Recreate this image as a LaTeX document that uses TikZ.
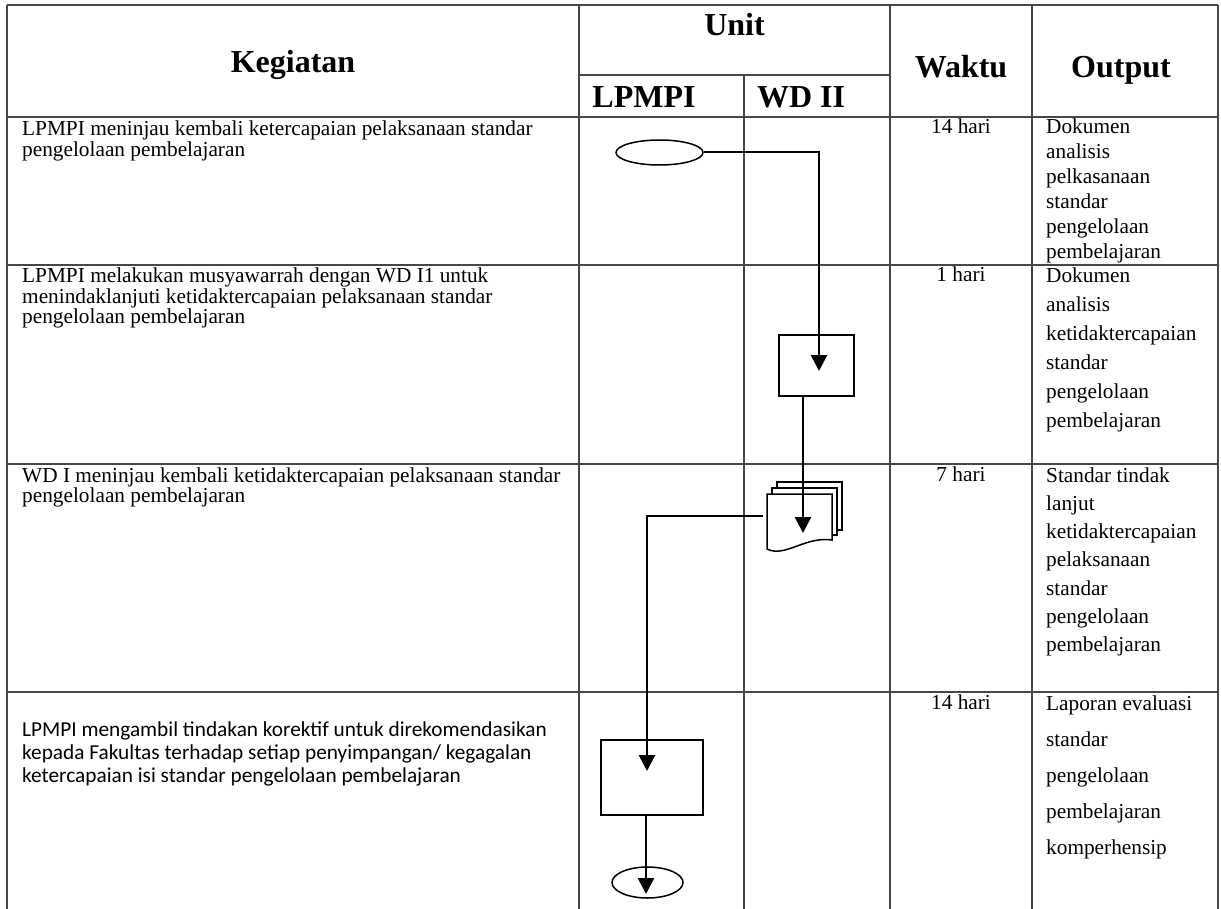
\documentclass[tikz,border=0pt]{standalone}
\usepackage{fontspec}
\setmainfont{Liberation Serif}
\newfontfamily\sansbody{Carlito}
\usetikzlibrary{arrows.meta,shapes.geometric,calc}

% one cell of text: lines stacked with a fixed leading, baseline = first line
\newcommand\cellstack[2]{\vtop{\baselineskip=#1pt\lineskiplimit=-20pt #2}}

\begin{document}
\begin{tikzpicture}[x=1pt,y=-1pt,
  grid/.style={line width=1.4pt,draw=black!72},
  head/.style={font=\fontsize{32}{32}\selectfont\bfseries,inner sep=0pt,anchor=base},
  cell/.style={font=\fontsize{21.3}{21}\selectfont,inner sep=0pt,anchor=base west},
  timecell/.style={font=\fontsize{21.3}{21}\selectfont,inner sep=0pt,anchor=base},
  term/.style={ellipse,draw=black,fill=white,line width=1.5pt,inner sep=0pt},
  proc/.style={rectangle,draw=black,fill=white,line width=1.5pt,inner sep=0pt},
  page/.style={draw=black,fill=white,line width=1.5pt,line join=miter},
  flow/.style={draw=black,line width=2.8pt,-{Triangle[width=16pt,length=16pt]}},
  link/.style={draw=black,line width=2pt}
]
\useasboundingbox (0,0) rectangle (1221,909);
\fill[white] (0,0) rectangle (1221,909);

% ---- table rules ----
\draw[grid] (7,5) -- (1218,5);
\draw[grid] (579,75) -- (890,75);
\foreach \y in {117,265,464,692} \draw[grid] (7,\y) -- (1218,\y);
\foreach \x in {7,579,890,1032,1218} \draw[grid] (\x,5) -- (\x,909);
\draw[grid] (744,75) -- (744,909);

% ---- header ----
\node[head] (hKeg) at (293,73) {Kegiatan};
\node[head] (hUnit) at (734.5,36) {Unit};
\node[head] (hLp) at (644,108) {LPMPI};
\node[head] (hWd) at (801,108) {WD II};
\node[head] (hWak) at (961,78) {Waktu};
\node[head] (hOut) at (1121,78) {Output};

% ---- row 1 ----
\node[cell] (k1) at (22,136) {\cellstack{20.5}{\hbox{LPMPI meninjau kembali ketercapaian pelaksanaan standar}\hbox{pengelolaan pembelajaran}}};
\node[timecell] (w1) at (961,134) {14 hari};
\node[cell] (o1) at (1046,134) {\cellstack{25}{\hbox{Dokumen}\hbox{analisis}\hbox{pelkasanaan}\hbox{standar}\hbox{pengelolaan}\hbox{pembelajaran}}};

% ---- row 2 ----
\node[cell] (k2) at (22,283) {\cellstack{20.5}{\hbox{LPMPI melakukan musyawarrah dengan WD I1 untuk}\hbox{menindaklanjuti ketidaktercapaian pelaksanaan standar}\hbox{pengelolaan pembelajaran}}};
\node[timecell] (w2) at (961,282) {1 hari};
\node[cell] (o2) at (1046,283) {\cellstack{29}{\hbox{Dokumen}\hbox{analisis}\hbox{ketidaktercapaian}\hbox{standar}\hbox{pengelolaan}\hbox{pembelajaran}}};

% ---- row 3 ----
\node[cell] (k3) at (22,482) {\cellstack{20.5}{\hbox{WD I meninjau kembali ketidaktercapaian pelaksanaan standar}\hbox{pengelolaan pembelajaran}}};
\node[timecell] (w3) at (961,481) {7 hari};
\node[cell] (o3) at (1046,482) {\cellstack{28.3}{\hbox{Standar tindak}\hbox{lanjut}\hbox{ketidaktercapaian}\hbox{pelaksanaan}\hbox{standar}\hbox{pengelolaan}\hbox{pembelajaran}}};

% ---- row 4 ----
\node[cell,font=\sansbody\fontsize{21.3}{21}\selectfont] (k4) at (22,736) {\cellstack{23}{\hbox{LPMPI mengambil tindakan korektif untuk direkomendasikan}\hbox{kepada Fakultas terhadap setiap penyimpangan/ kegagalan}\hbox{ketercapaian isi standar pengelolaan pembelajaran}}};
\node[timecell] (w4) at (961,709) {14 hari};
\node[cell] (o4) at (1046,710) {\cellstack{36}{\hbox{Laporan evaluasi}\hbox{standar}\hbox{pengelolaan}\hbox{pembelajaran}\hbox{komperhensip}}};

% ---- flowchart symbols ----
\node[term,minimum width=87pt,minimum height=25pt] (start) at (659.5,152.5) {};
\node[proc,minimum width=75pt,minimum height=61pt] (act1) at (816.5,365.5) {};
\node[inner sep=0pt,minimum width=65pt,minimum height=55pt] (doc) at (799.5,521.5) {};
\node[proc,minimum width=102pt,minimum height=75pt] (act2) at (652,777.5) {};
\node[term,minimum width=71pt,minimum height=31pt] (stop) at (647.5,882.5) {};

% stacked documents: two back sheets, then the front sheet with a wavy foot
\draw[page] (777,482) rectangle (842,530);
\draw[page] (772,488) rectangle (837,535);
\draw[page] (767,494) -- (832,494) -- (832,540)
  .. controls (805,536) and (785,558) .. (767,549) -- cycle;

% ---- connectors ----
\coordinate (bend1) at (819,152.5);
\coordinate (tip1) at (819,371);
\draw[link] (start.east) -- (bend1);
\draw[flow] ($(bend1)+(0,-1)$) -- (tip1);

\coordinate (out1) at ($(act1.south)+(-13.5,0)$);
\coordinate (tip2) at (803,533);
\draw[flow] (out1) -- (tip2);

\coordinate (out2) at ($(doc.west)+(-4,-5.5)$);
\coordinate (tip3) at (647,771);
\draw[flow] (out2) -| (tip3);

\coordinate (out3) at ($(act2.south)+(-6,0)$);
\coordinate (tip4) at (646,894);
\draw[flow] (out3) -- (tip4);

\end{tikzpicture}
\end{document}
